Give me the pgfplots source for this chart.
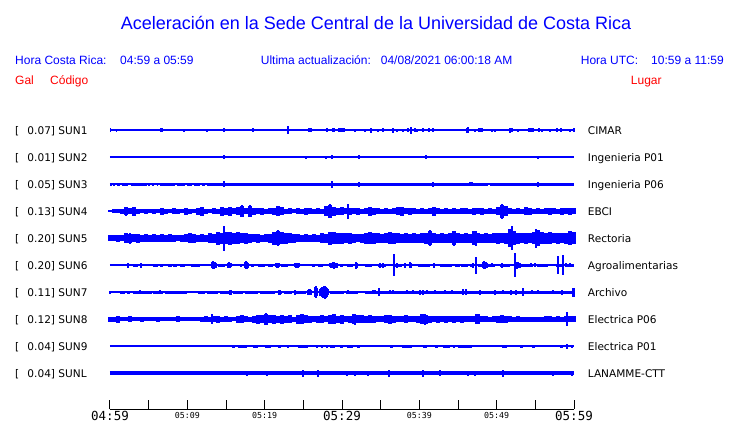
\documentclass[border=0pt]{standalone}
\usepackage{pgfplots}
\pgfplotsset{compat=1.18}
\usepackage{fontspec}
\setmainfont{Liberation Sans}
\newfontfamily\dvs{DejaVu Sans}
\newfontfamily\dvm{DejaVu Sans Mono}
\definecolor{sblue}{RGB}{0,0,255}
\definecolor{sred}{RGB}{255,0,0}
\newcommand\TL[1]{{\fontsize{12.5bp}{13bp}\selectfont\dvm #1}}
\newcommand\TS[1]{\raisebox{2.2bp}{\fontsize{8.3bp}{9bp}\selectfont\dvm #1}}
\pgfplotsset{
  spk/.style={draw=none, error bars/.cd, y dir=both, y explicit, error mark=none,
     error bar style={draw=sblue, solid, line width=#1}},
  blb/.style={draw=none, error bars/.cd, x dir=both, x explicit, error mark=none,
     error bar style={draw=sblue, solid, line width=#1}},
  base/.style={sblue, line width=#1, mark=none},
}
\begin{document}
\begin{tikzpicture}
\begin{axis}[
  scale only axis, width=464bp, height=409bp,
  xmin=110, xmax=574, ymin=0, ymax=409, y dir=reverse,
  axis x line=bottom, axis y line=none, clip=false,
  x axis line style={-, black, line width=1bp},
  xtick={110,148.667,187.333,226,264.667,303.333,342,380.667,419.333,458,496.667,535.333,574},
  xticklabels={\TL{04:59},,\TS{05:09},,\TS{05:19},,\TL{05:29},,\TS{05:39},,\TS{05:49},,\TL{05:59}},
  xticklabel style={anchor=base, inner sep=0pt, yshift=-11.5bp},
  tick align=inside, major tick length=9.5bp,
  xtick style={black, line width=1bp},
]
% ---------- SUN1 ----------
\addplot[base=1.3bp] coordinates {(110,130)(574,130)};
\addplot[blb=4bp] coordinates {(161.5,130) +- (1.5,0) (310,130) +- (2,0) (333.5,130) +- (1.5,0) (341.5,130) +- (3.5,0) (480.5,130) +- (2.5,0) (531,130) +- (3,0)};
\addplot[spk=1.2bp] table[row sep=\\, x=x, y expr=130, y error=e] {x e\\
110.5 2\\ 116.7 1.5\\ 184 1.5\\ 207 1.5\\ 224 2\\ 247 1\\ 253 2\\ 288 4\\ 304 1\\ 313 1\\ 320 1\\ 327 2\\ 355 1.5\\ 358 1\\ 365 1.5\\ 371 2.5\\ 378 1.5\\ 383 2\\ 387 1\\ 393 2.5\\ 397 1.5\\ 403 1.5\\ 408 2\\ 411 3.5\\ 415 2\\ 417 1.5\\ 423 2\\ 429 2\\ 433 2\\ 455 1\\ 467 2.5\\ 468 3\\ 475 1.5\\ 492 1.5\\ 495 1.5\\ 502 1\\ 510 2.5\\ 512 2\\ 518 1.5\\ 539 2\\ 542 1.5\\ 550 1.5\\ 557 2\\ 561 2\\ 570 1.5\\ 574 2\\
};
% ---------- SUN2 ----------
\addplot[base=1.3bp] coordinates {(110,157)(574,157)};
\addplot[spk=1.2bp] table[row sep=\\, x=x, y expr=157, y error=e] {x e\\
224 2\\ 234 1\\ 306 1.5\\ 316 1\\ 326 1.5\\ 332 2\\ 359 2\\ 392 1\\ 423 1\\ 426 2\\ 475 1\\ 538 1.5\\
};
% ---------- SUN3 ----------
\addplot[base=1.3bp] coordinates {(110,184)(574,184)};
\addplot[blb=3bp] coordinates {(111,184) +- (1,0) (114,184) +- (1,0) (118.5,184) +- (1.5,0) (125,184) +- (3,0) (139,184) +- (8,0) (149,184) +- (1,0) (153,184) +- (1,0) (157.5,184) +- (0.5,0) (167.5,184) +- (7.5,0) (181,184) +- (4,0) (189.5,184) +- (2.5,0) (197,184) +- (3,0) (203.5,184) +- (1.5,0) (347.5,184) +- (140.5,0) (532,184) +- (42,0)};
\addplot[spk=1.2bp] table[row sep=\\, x=x, y expr=184, y error=e] {x e\\
224 3\\ 332 3.5\\ 359 2.5\\ 371 1.5\\ 433 2.5\\ 470 2\\ 471 2\\ 472 2\\ 514 1.5\\ 538 2.5\\
};
% ---------- SUN4 ----------
\addplot[spk=4bp] table[row sep=\\, x=x, y expr=211, y error=e] {x e\\
110 1\\ 114 2\\ 118 2\\ 122 2.5\\ 126 4\\ 130 3\\ 134 4.5\\ 138 2.5\\ 142 2\\ 146 2.5\\ 150 2\\ 154 2.5\\ 158 2\\ 162 3.5\\ 166 2.5\\ 170 2\\ 174 3\\ 178 2.5\\ 182 2\\ 186 3.5\\ 190 2.5\\ 194 2\\ 198 3.5\\ 202 4.5\\ 206 2.5\\ 210 2\\ 214 3\\ 218 2.5\\ 222 4.5\\ 226 3.5\\ 230 4.5\\ 234 3\\ 238 4\\ 242 5.5\\ 246 3\\ 250 5.5\\ 254 3.5\\ 258 3\\ 262 3.5\\ 266 2.5\\ 270 3\\ 274 3.5\\ 278 5\\ 282 4\\ 286 2.5\\ 290 3\\ 294 2\\ 298 3\\ 302 2.5\\ 306 3.5\\ 310 3\\ 314 2.5\\ 318 3\\ 322 2.5\\ 326 5\\ 330 6.5\\ 334 4.5\\ 338 3.5\\ 342 4\\ 346 3\\ 350 3.5\\ 354 3\\ 358 3.5\\ 362 2.5\\ 366 3\\ 370 4.5\\ 374 3.5\\ 378 3\\ 382 2.5\\ 386 3\\ 390 2.5\\ 394 3\\ 398 4\\ 402 4.5\\ 406 3\\ 410 3.5\\ 414 3\\ 418 2.5\\ 422 3\\ 426 2.5\\ 430 3\\ 434 4.5\\ 438 3\\ 442 2.5\\ 446 3\\ 450 2.5\\ 454 3\\ 458 2.5\\ 462 3\\ 466 3\\ 470 2.5\\ 474 3.5\\ 478 3\\ 482 3.5\\ 486 2.5\\ 490 3\\ 494 2.5\\ 498 4\\ 502 6.5\\ 506 5\\ 510 3\\ 514 2.5\\ 518 3\\ 522 2.5\\ 526 4\\ 530 3.5\\ 534 2.5\\ 538 3\\ 542 2.5\\ 546 3\\ 550 3.5\\ 554 3\\ 558 2.5\\ 562 3.5\\ 566 3\\ 570 3.5\\ 574 3\\
};
\addplot[spk=1.2bp] table[row sep=\\, x=x, y expr=211, y error=e] {x e\\
126 4.5\\ 242 6\\ 250 6\\ 330 7\\ 348 7.5\\ 502 7.5\\
};
% ---------- SUN5 ----------
\addplot[spk=4bp] table[row sep=\\, x=x, y expr=238, y error=e] {x e\\
110 3\\ 114 3\\ 118 3.5\\ 122 3\\ 126 5\\ 130 4.5\\ 134 4\\ 138 4.5\\ 142 3.5\\ 146 4\\ 150 3.5\\ 154 4\\ 158 3.5\\ 162 4\\ 166 3.5\\ 170 4\\ 174 3.5\\ 178 3\\ 182 3.5\\ 186 4\\ 190 5\\ 194 4.5\\ 198 3.5\\ 202 4\\ 206 3.5\\ 210 5\\ 214 4.5\\ 218 6.5\\ 222 5.5\\ 226 6\\ 230 6.5\\ 234 5.5\\ 238 6\\ 242 5\\ 246 5.5\\ 250 4.5\\ 254 4\\ 258 4.5\\ 262 3.5\\ 266 4\\ 270 4.5\\ 274 6.5\\ 278 7\\ 282 6\\ 286 5.5\\ 290 5\\ 294 4.5\\ 298 4\\ 302 3.5\\ 306 4\\ 310 3.5\\ 314 4\\ 318 3.5\\ 322 5\\ 326 4.5\\ 330 6.5\\ 334 6\\ 338 5.5\\ 342 5.5\\ 346 5\\ 350 5.5\\ 354 4.5\\ 358 4\\ 362 4.5\\ 366 5.5\\ 370 6\\ 374 5.5\\ 378 5\\ 382 4.5\\ 386 5\\ 390 6\\ 394 5.5\\ 398 5\\ 402 4.5\\ 406 5\\ 410 4.5\\ 414 5\\ 418 4.5\\ 422 5\\ 426 5.5\\ 430 7\\ 434 5\\ 438 4.5\\ 442 5\\ 446 4.5\\ 450 5\\ 454 7\\ 458 5\\ 462 4.5\\ 466 5\\ 470 4.5\\ 474 7\\ 478 5\\ 482 4.5\\ 486 5\\ 490 4.5\\ 494 5\\ 498 5.5\\ 502 5\\ 506 5.5\\ 510 9\\ 514 7\\ 518 5.5\\ 522 5\\ 526 5.5\\ 530 5\\ 534 6\\ 538 8\\ 542 6\\ 546 5.5\\ 550 6\\ 554 5\\ 558 5.5\\ 562 5\\ 566 5.5\\ 570 7\\ 574 6\\
};
\addplot[spk=1.2bp] table[row sep=\\, x=x, y expr=238, y error=e] {x e\\
130 5.5\\ 224 12.5\\ 278 8\\ 430 8\\ 454 7.5\\ 476 7.5\\ 512 12\\ 536 9.5\\
};
% ---------- SUN6 ----------
\addplot[base=1.3bp] coordinates {(110,265)(574,265)};
\addplot[blb=3bp] coordinates {(135.5,265) +- (2.5,0) (155.5,265) +- (2.5,0) (161.5,265) +- (1.5,0) (170,265) +- (2,0) (175,265) +- (2,0) (182.5,265) +- (2.5,0) (195.5,265) +- (4.5,0) (221.5,265) +- (3.5,0) (241,265) +- (1,0) (252.5,265) +- (1.5,0) (261.5,265) +- (3.5,0) (270.5,265) +- (2.5,0) (284.5,265) +- (3.5,0) (313.5,265) +- (1.5,0) (320.5,265) +- (2.5,0) (341.5,265) +- (1.5,0) (350,265) +- (3,0) (368.5,265) +- (3.5,0) (382,265) +- (4,0) (398.5,265) +- (3.5,0) (424,265) +- (6,0) (446,265) +- (6,0) (457.5,265) +- (2.5,0) (464.5,265) +- (3.5,0) (472,265) +- (2,0) (486.5,265) +- (8.5,0) (505,265) +- (5,0) (524,265) +- (9,0) (542.5,265) +- (5.5,0) (559,265) +- (3,0) (569.5,265) +- (4.5,0)};
\addplot[spk=1.2bp] table[row sep=\\, x=x, y expr=265, y error=e] {x e\\
128 2.5\\ 141 2.5\\ 212 3\\ 213 4\\ 214 3.5\\ 215 3\\ 216 2.5\\ 228 2.5\\ 229 3\\ 230 2.5\\ 231 2\\ 245 3\\ 246 4\\ 247 3.5\\ 248 2.5\\ 276 2\\ 277 2.5\\ 278 2.5\\ 279 2\\ 295 2\\ 296 2.5\\ 297 2.5\\ 298 2.5\\ 299 2\\ 307 1\\ 330 2\\ 331 2.5\\ 332 2.5\\ 333 3\\ 334 3.5\\ 335 2.5\\ 336 2\\ 337 2.5\\ 356 3.5\\ 357 2.5\\ 380 2.5\\ 383 2.5\\ 394 11\\ 397 2.5\\ 405 2.5\\ 410 3\\ 411 2.5\\ 434 2.5\\ 473 2.5\\ 476 8.5\\ 483 3\\ 484 4\\ 485 3.5\\ 486 3\\ 487 2.5\\ 492 2\\ 502 2.5\\ 515 12\\ 517 3.5\\ 518 3\\ 520 2.5\\ 531 2\\ 535 2\\ 558 9\\ 563 10\\ 566 2\\ 570 2\\
};
% ---------- SUN7 ----------
\addplot[base=1.3bp] coordinates {(110,292)(574,292)};
\addplot[blb=3bp] coordinates {(122.5,292) +- (2.5,0) (128.5,292) +- (1.5,0) (142.5,292) +- (9.5,0) (158,292) +- (5,0) (176,292) +- (11,0) (201.5,292) +- (3.5,0) (212.5,292) +- (5.5,0) (224.5,292) +- (4.5,0) (238,292) +- (5,0) (251.5,292) +- (6.5,0) (267.5,292) +- (7.5,0) (280,292) +- (2,0) (288,292) +- (4,0) (301,292) +- (5,0) (337,292) +- (7,0) (352,292) +- (6,0) (469.5,292) +- (104.5,0)};
\addplot[spk=1.2bp] table[row sep=\\, x=x, y expr=292, y error=e] {x e\\
110 1.5\\ 140 2\\ 160 2\\ 230 2.5\\ 231 2.5\\ 279 2.5\\ 280 2.5\\ 295 2.5\\ 308 2.5\\ 309 3\\ 310 3\\ 311 2.5\\ 315 5\\ 316 6\\ 317 4\\ 320 3.5\\ 321 4\\ 322 5\\ 323 5.5\\ 324 6\\ 325 6.5\\ 326 5.5\\ 327 4.5\\ 328 3\\ 348 2\\ 373 2\\ 375 2\\ 379 4\\ 390 2\\ 393 2\\ 407 2\\ 413 2\\ 420 2.5\\ 423 2.5\\ 427 2\\ 435 2\\ 445 2\\ 452 2\\ 463 3\\ 466 3\\ 480 2.5\\ 495 2.5\\ 503 2\\ 511 2.5\\ 516 2.5\\ 523 4\\ 532 2\\ 538 2\\ 553 2\\ 562 2.5\\ 573 4.5\\ 574 4.5\\
};
% ---------- SUN8 ----------
\addplot[spk=4bp] table[row sep=\\, x=x, y expr=319, y error=e] {x e\\
110 2.5\\ 114 2.5\\ 118 3.5\\ 122 2\\ 126 2\\ 130 3\\ 134 2\\ 138 2\\ 142 2.5\\ 146 2\\ 150 2\\ 154 2\\ 158 2.5\\ 162 2\\ 166 2\\ 170 2\\ 174 2\\ 178 3\\ 182 2\\ 186 2\\ 190 2\\ 194 2\\ 198 2\\ 202 2.5\\ 206 3\\ 210 2.5\\ 214 3\\ 218 3.5\\ 222 2.5\\ 226 3\\ 230 2.5\\ 234 2\\ 238 3.5\\ 242 4\\ 246 3\\ 250 2.5\\ 254 3.5\\ 258 4.5\\ 262 4\\ 266 5.5\\ 270 4\\ 274 4.5\\ 278 3.5\\ 282 4.5\\ 286 3.5\\ 290 4\\ 294 2.5\\ 298 4.5\\ 302 5\\ 306 4\\ 310 3.5\\ 314 3\\ 318 3.5\\ 322 4\\ 326 3\\ 330 4.5\\ 334 5\\ 338 3.5\\ 342 4.5\\ 346 3\\ 350 3.5\\ 354 5\\ 358 4\\ 362 4\\ 366 3.5\\ 370 4\\ 374 3.5\\ 378 3\\ 382 3\\ 386 4\\ 390 4.5\\ 394 3.5\\ 398 3\\ 402 3\\ 406 4\\ 410 3\\ 414 3\\ 418 3.5\\ 422 5\\ 426 4.5\\ 430 3.5\\ 434 3\\ 438 3.5\\ 442 3\\ 446 3.5\\ 450 3\\ 454 3.5\\ 458 3\\ 462 3.5\\ 466 3\\ 470 3\\ 474 3\\ 478 5\\ 482 3\\ 486 3\\ 490 2.5\\ 494 3\\ 498 3.5\\ 502 4\\ 506 3.5\\ 510 3\\ 514 2.5\\ 518 3\\ 522 2.5\\ 526 2.5\\ 530 2.5\\ 534 2.5\\ 538 2.5\\ 542 2.5\\ 546 3\\ 550 3\\ 554 2.5\\ 558 3\\ 562 2.5\\ 566 3\\ 570 3\\ 574 3\\
};
\addplot[spk=1.2bp] table[row sep=\\, x=x, y expr=319, y error=e] {x e\\
212 5\\ 266 6\\ 355 5.5\\ 425 5.5\\ 476 5\\ 567 7\\
};
% ---------- SUN9 ----------
\addplot[base=1.3bp] coordinates {(110,346)(574,346)};
\addplot[blb=3bp] coordinates {(233.5,346) +- (1.5,0) (242.5,346) +- (4.5,0) (255.5,346) +- (2.5,0) (268,346) +- (3,0) (279.5,346) +- (1.5,0) (303,346) +- (5,0) (317,346) +- (1,0) (322,346) +- (1,0) (332.5,346) +- (2.5,0) (341.5,346) +- (1.5,0) (350,346) +- (3,0) (358.5,346) +- (1.5,0) (391.5,346) +- (1.5,0) (407,346) +- (5,0) (425,346) +- (2,0) (436.5,346) +- (1.5,0) (446.5,346) +- (3.5,0) (454,346) +- (1,0) (465,346) +- (7,0) (504.5,346) +- (2.5,0) (521.5,346) +- (1.5,0) (533.5,346) +- (1.5,0) (561.5,346) +- (1.5,0)};
\addplot[spk=1.2bp] table[row sep=\\, x=x, y expr=346, y error=e] {x e\\
142 1\\ 211 1\\ 224 1\\ 288 1.5\\ 327 1.5\\ 367 1\\ 372 1\\ 380 1\\ 384 1\\ 475 1\\ 480 1\\ 513 1\\ 567 2.5\\ 572 1.5\\
};
% ---------- SUNL ----------
\addplot[base=3.5bp] coordinates {(110,373)(574,373)};
\addplot[blb=4bp] coordinates {(139.5,373) +- (29.5,0)};
\addplot[spk=1.2bp] table[row sep=\\, x=x, y expr=373, y error=e] {x e\\
169 2\\ 247 2.5\\ 267 2.5\\ 303 3.5\\ 318 3.5\\ 347 2.5\\ 355 2.5\\ 368 2.5\\ 389 3.5\\ 409 2\\ 411 2\\ 423 3.5\\ 440 3\\ 468 2.5\\ 475 2.5\\ 503 3.5\\ 553 2.5\\ 572 2.5\\
};
% ---------- texts ----------
\node[anchor=base west, inner sep=0pt, text=sblue, font=\fontsize{18bp}{20bp}\selectfont] at (120.7,30) {Aceleración en la Sede Central de la Universidad de Costa Rica};
\begin{scope}[every node/.style={anchor=base west, inner sep=0pt, text=sblue, font=\fontsize{12bp}{14bp}\selectfont}]
\node at (15,65) {Hora Costa Rica:};
\node at (120,65) {04:59 a 05:59};
\node at (260.7,65) {Ultima actualización:};
\node at (380.7,65) {04/08/2021 06:00:18 AM};
\node at (580.7,65) {Hora UTC:};
\node at (651,65) {10:59 a 11:59};
\end{scope}
\begin{scope}[every node/.style={anchor=base west, inner sep=0pt, text=sred, font=\fontsize{12bp}{14bp}\selectfont}]
\node at (15,85) {Gal};
\node at (50,85) {Código};
\node at (630.7,85) {Lugar};
\end{scope}
\begin{scope}[every node/.style={anchor=base west, inner sep=0pt, text=black, font=\fontsize{10.55bp}{12bp}\selectfont\dvs}]
\node at (15,134) {[}; \node at (27.3,134) {0.07] SUN1}; \node at (587.7,134) {CIMAR};
\node at (15,161) {[}; \node at (27.3,161) {0.01] SUN2}; \node at (587.7,161) {Ingenieria P01};
\node at (15,188) {[}; \node at (27.3,188) {0.05] SUN3}; \node at (587.7,188) {Ingenieria P06};
\node at (15,215) {[}; \node at (27.3,215) {0.13] SUN4}; \node at (587.7,215) {EBCI};
\node at (15,242) {[}; \node at (27.3,242) {0.20] SUN5}; \node at (587.7,242) {Rectoria};
\node at (15,269) {[}; \node at (27.3,269) {0.20] SUN6}; \node at (587.7,269) {Agroalimentarias};
\node at (15,296) {[}; \node at (27.3,296) {0.11] SUN7}; \node at (587.7,296) {Archivo};
\node at (15,323) {[}; \node at (27.3,323) {0.12] SUN8}; \node at (587.7,323) {Electrica P06};
\node at (15,350) {[}; \node at (27.3,350) {0.04] SUN9}; \node at (587.7,350) {Electrica P01};
\node at (15,377) {[}; \node at (27.3,377) {0.04] SUNL}; \node at (587.7,377) {LANAMME-CTT};
\end{scope}
\path (0,0) rectangle (740,423);
\end{axis}
\end{tikzpicture}
\end{document}
